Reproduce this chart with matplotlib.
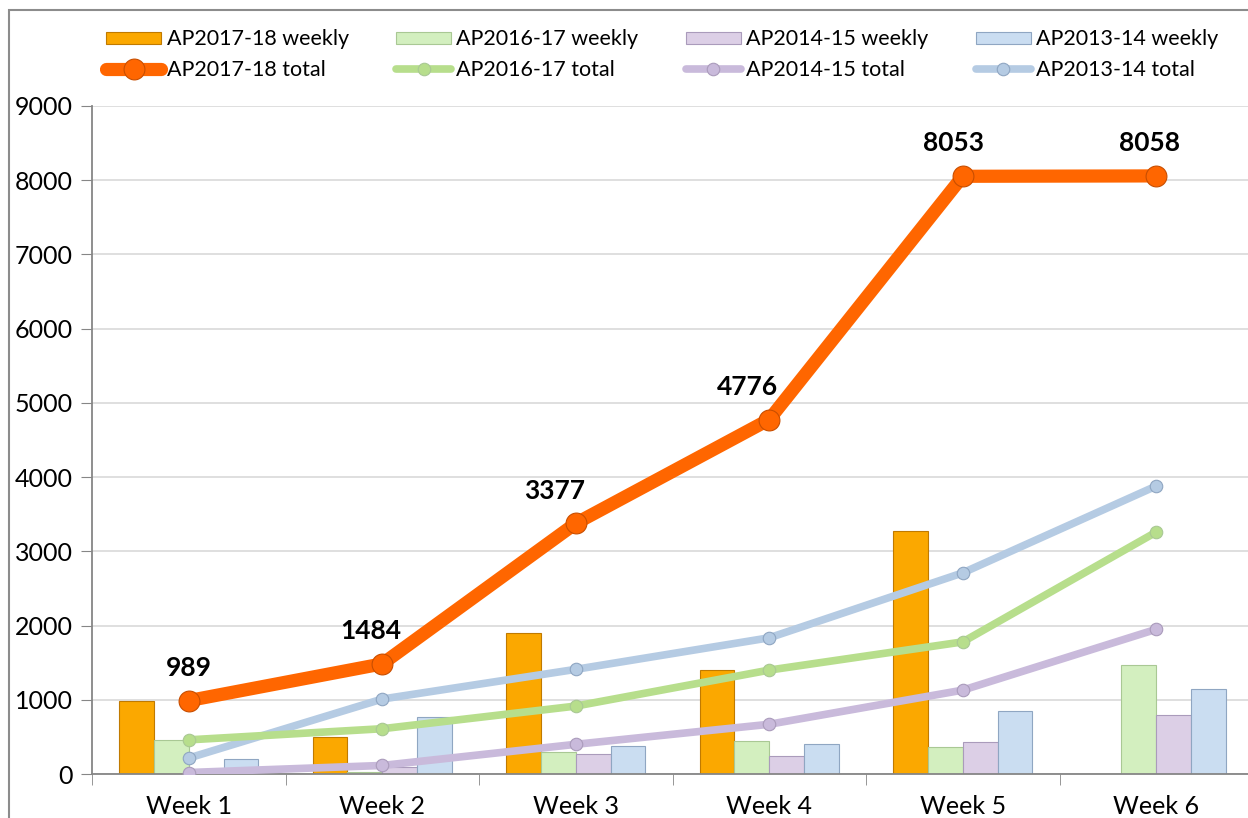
import numpy as np
import matplotlib.pyplot as plt
from matplotlib.patches import Rectangle

plt.rcParams['font.family'] = ['Lato', 'DejaVu Sans']

weeks = ["Week 1", "Week 2", "Week 3", "Week 4", "Week 5", "Week 6"]

# weekly counts
w1718 = [989, 495, 1893, 1399, 3277, 5]
w1617 = [460, 25, 300, 445, 365, 1470]
w1415 = [15, 100, 270, 240, 430, 795]
w1314 = [200, 770, 375, 400, 850, 1145]

# running totals
t1718 = [989, 1484, 3377, 4776, 8053, 8058]
t1617 = [460, 610, 915, 1400, 1780, 3260]
t1415 = [20, 115, 400, 670, 1130, 1950]
t1314 = [215, 1010, 1410, 1835, 2710, 3880]

bar_cols = ["#FBA800", "#D3EFBF", "#DCCFE6", "#CADDF1"]
bar_edges = ["#C07A00", "#A9C894", "#AA9BBB", "#8FA6C2"]
line_cols = ["#FF6600", "#B7DE8C", "#C9BADB", "#B5CBE3"]
names = ["AP2017-18", "AP2016-17", "AP2014-15", "AP2013-14"]

fig = plt.figure(figsize=(12.48, 8.18), dpi=100)
ax = fig.add_axes([92 / 1248, 44 / 818, 1161 / 1248, 668 / 818])

x = np.arange(len(weeks))
bw = 0.18
weekly = [w1718, w1617, w1415, w1314]
totals = [t1718, t1617, t1415, t1314]

bar_handles = []
for i, vals in enumerate(weekly):
    b = ax.bar(x + (i - 1.5) * bw, vals, bw, color=bar_cols[i],
               edgecolor=bar_edges[i], linewidth=0.8, zorder=2,
               label=names[i] + " weekly")
    bar_handles.append(b)

line_handles = {}
# draw thinner lines first, orange on top
for i in [3, 1, 2, 0]:
    lw = 9.5 if i == 0 else 5.5
    ms = 15 if i == 0 else 9
    ln, = ax.plot(x, totals[i], color=line_cols[i], lw=lw, marker='o',
                  ms=ms, mfc=line_cols[i], mec=bar_edges[i] if i else "#C84E00",
                  mew=0.8, zorder=3 + (i == 0), solid_capstyle='round',
                  label=names[i] + " total")
    line_handles[i] = ln

# label nudges in pixels (Excel put them a bit left of the points)
nudge = [0, -11, -21, -22, -9, -7]
for xi, v, dx in zip(x, t1718, nudge):
    ax.annotate(str(v), (xi, v), xytext=(dx * 0.72, 15),
                textcoords='offset points', ha='center', va='bottom',
                fontsize=19, fontweight='bold', zorder=5)

ax.set_xlim(-0.5, 5.5)
ax.set_ylim(0, 9000)
ax.set_yticks(range(0, 9001, 1000))
ax.yaxis.grid(True, color="#D9D9D9", lw=1.2, zorder=0)
ax.set_axisbelow(True)
ax.set_xticks(x)
ax.set_xticklabels(weeks, fontsize=18)
ax.set_xticks(np.arange(-0.5, 6, 1), minor=True)
ax.tick_params(axis='x', which='major', length=0, pad=15)
ax.tick_params(axis='x', which='minor', length=8, color="#868686")
ax.tick_params(axis='y', labelsize=18, length=8, color="#868686", pad=6)
for s in ['top', 'right']:
    ax.spines[s].set_visible(False)
ax.spines['left'].set_color("#868686")
ax.spines['bottom'].set_color("#868686")
ax.spines['left'].set_linewidth(1.3)
ax.spines['bottom'].set_linewidth(1.3)

# outer chart border
fig.patches.append(Rectangle((9 / 1248, -0.1), 1.1, (818 - 10) / 818 + 0.1,
                             transform=fig.transFigure, fill=False,
                             edgecolor="#8C8C8C", lw=1.5))

handles = []
labels = []
for i in range(4):
    handles.append(bar_handles[i])
    labels.append(names[i] + " weekly")
    handles.append(line_handles[i])
    labels.append(names[i] + " total")
fig.legend(handles, labels, ncol=4, loc='upper left',
           bbox_to_anchor=(87 / 1248, 1 - 10 / 818), frameon=False,
           fontsize=15.5, handlelength=2.55, handletextpad=0.25,
           columnspacing=2.2, labelspacing=0.5, handleheight=0.5)

fig.savefig("out.png", dpi=100)
